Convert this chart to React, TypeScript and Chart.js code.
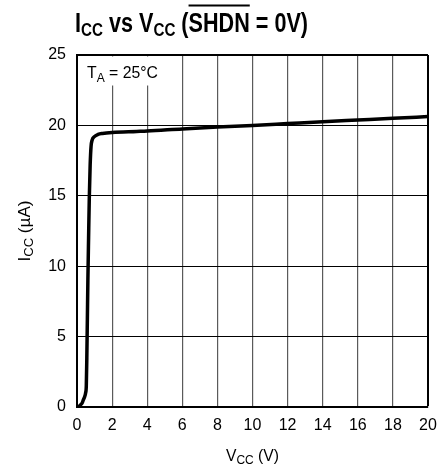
import React, { useEffect, useRef } from "react";
import { Chart, registerables } from "chart.js";

Chart.register(...registerables);

// ---- data ----
const vcc = [0, 0.1, 0.2, 0.3, 0.36, 0.44, 0.49, 0.53, 0.56, 0.59, 0.62, 0.66, 0.7, 0.75, 0.8, 0.86, 0.99, 1.2, 1.45, 2, 3.4, 4, 6, 8, 10, 12, 14, 16, 18, 20];
const icc = [0, 0.05, 0.15, 0.3, 0.5, 0.75, 1.0, 1.5, 3.5, 6.2, 9, 12, 14.8, 17.2, 18.5, 18.95, 19.2, 19.36, 19.43, 19.5, 19.57, 19.6, 19.75, 19.88, 20.0, 20.13, 20.26, 20.38, 20.5, 20.63];
const xTicks = [0, 2, 4, 6, 8, 10, 12, 14, 16, 18, 20];
const yTicks = [0, 5, 10, 15, 20, 25];

const FONT = "'Liberation Sans', Arial, sans-serif";

type Seg = { t: string; size: number; dy?: number; bold?: boolean; over?: boolean };

function drawRich(
  ctx: CanvasRenderingContext2D,
  segs: Seg[],
  x: number,
  y: number,
  opts: { width?: number; align?: "left" | "center"; rotate?: number }
) {
  ctx.save();
  ctx.textBaseline = "alphabetic";
  ctx.textAlign = "left";
  let natural = 0;
  const widths: number[] = [];
  for (const s of segs) {
    ctx.font = `${s.bold ? "bold " : ""}${s.size}px ${FONT}`;
    const w = ctx.measureText(s.t).width;
    widths.push(w);
    natural += w;
  }
  const sx = opts.width ? opts.width / natural : 1;
  ctx.translate(x, y);
  if (opts.rotate) ctx.rotate(opts.rotate);
  ctx.scale(sx, 1);
  let cx = opts.align === "center" ? -natural / 2 : 0;
  ctx.fillStyle = "#000";
  ctx.strokeStyle = "#000";
  segs.forEach((s, i) => {
    ctx.font = `${s.bold ? "bold " : ""}${s.size}px ${FONT}`;
    ctx.fillText(s.t, cx, s.dy || 0);
    if (s.over) {
      ctx.lineWidth = 2;
      ctx.beginPath();
      ctx.moveTo(cx, -s.size * 0.98);
      ctx.lineTo(cx + widths[i], -s.size * 0.98);
      ctx.stroke();
    }
    cx += widths[i];
  });
  ctx.restore();
}

const textPlugin = {
  id: "textPlugin",
  afterDraw(chart: any) {
    const ctx: CanvasRenderingContext2D = chart.ctx;
    const xs = chart.scales.x;
    const ys = chart.scales.y;
    // Title
    drawRich(
      ctx,
      [
        { t: "I", size: 27, bold: true },
        { t: "CC", size: 19, dy: 4, bold: true },
        { t: " vs V", size: 27, bold: true },
        { t: "CC", size: 19, dy: 4, bold: true },
        { t: " (", size: 27, bold: true },
        { t: "SHDN", size: 27, bold: true, over: true },
        { t: " = 0V)", size: 27, bold: true },
      ],
      75,
      32,
      { width: 233 }
    );
    // Annotation box with T_A = 25°C
    const left = xs.getPixelForValue(0);
    const top = ys.getPixelForValue(25);
    ctx.save();
    ctx.fillStyle = "#fff";
    ctx.fillRect(left + 1.5, top + 1.5, 83, 29);
    ctx.restore();
    drawRich(
      ctx,
      [
        { t: "T", size: 17 },
        { t: "A", size: 13, dy: 4 },
        { t: " = 25°C", size: 17 },
      ],
      left + 10,
      top + 23,
      { width: 71 }
    );
    // X axis title
    drawRich(
      ctx,
      [
        { t: "V", size: 17 },
        { t: "CC", size: 13, dy: 3 },
        { t: " (V)", size: 17 },
      ],
      (xs.left + xs.right) / 2,
      461,
      { width: 53, align: "center" }
    );
    // Y axis title
    drawRich(
      ctx,
      [
        { t: "I", size: 17 },
        { t: "CC", size: 13, dy: 3 },
        { t: " (µA)", size: 17 },
      ],
      30,
      (ys.top + ys.bottom) / 2,
      { width: 61, align: "center", rotate: -Math.PI / 2 }
    );
  },
};

export default function App() {
  const ref = useRef<HTMLCanvasElement | null>(null);
  useEffect(() => {
    if (!ref.current) return;
    const chart = new Chart(ref.current, {
      type: "line",
      data: {
        datasets: [
          {
            data: vcc.map((v, i) => ({ x: v, y: icc[i] })),
            borderColor: "#000",
            borderWidth: 3.5,
            pointRadius: 0,
            cubicInterpolationMode: "monotone",
            fill: false,
          },
        ],
      },
      options: {
        animation: false,
        responsive: false,
        maintainAspectRatio: false,
        layout: { padding: { top: 55, right: 11, left: 0, bottom: 0 } },
        plugins: { legend: { display: false }, tooltip: { enabled: false } },
        scales: {
          x: {
            type: "linear",
            min: 0,
            max: 20,
            afterBuildTicks: (s: any) => {
              s.ticks = xTicks.map((v) => ({ value: v }));
            },
            afterFit: (s: any) => {
              s.height = 59;
              s.paddingLeft = 0;
              s.paddingRight = 0;
            },
            ticks: {
              color: "#000",
              padding: 9,
              font: { family: FONT, size: 16 },
              maxRotation: 0,
              autoSkip: false,
            },
            grid: {
              drawTicks: false,
              color: (c: any) => (c.tick && c.tick.value === 20 ? "#000" : "#5a5a5a"),
              lineWidth: (c: any) => (c.tick && c.tick.value === 20 ? 2 : 1.2),
            },
            border: { display: true, color: "#000", width: 2 },
          },
          y: {
            type: "linear",
            min: 0,
            max: 25,
            afterBuildTicks: (s: any) => {
              s.ticks = yTicks.map((v) => ({ value: v }));
            },
            afterFit: (s: any) => {
              s.width = 77;
              s.paddingTop = 0;
              s.paddingBottom = 0;
            },
            ticks: {
              color: "#000",
              padding: 11,
              font: { family: FONT, size: 16 },
              autoSkip: false,
            },
            grid: {
              drawTicks: false,
              color: "#000",
              lineWidth: (c: any) => (c.tick && c.tick.value === 25 ? 2 : 1),
            },
            border: { display: true, color: "#000", width: 2 },
          },
        },
      },
      plugins: [textPlugin],
    } as any);
    return () => chart.destroy();
  }, []);
  return (
    <div style={{ position: "fixed", left: 0, top: 0, width: 439, height: 466, background: "#fff" }}>
      <canvas ref={ref} width={439} height={466} style={{ display: "block", width: 439, height: 466 }} />
    </div>
  );
}
